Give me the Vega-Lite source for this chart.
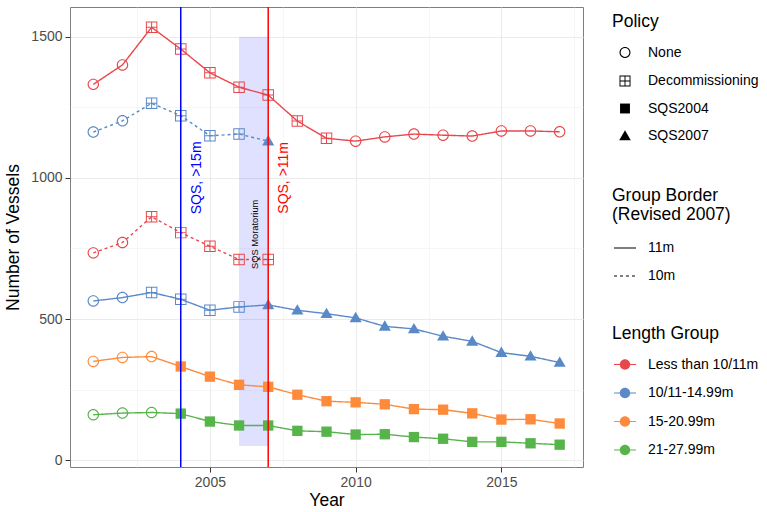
{
  "$schema": "https://vega.github.io/schema/vega-lite/v6.json",
  "width": 513,
  "height": 460,
  "autosize": {"type": "none"},
  "padding": {"left": 70, "top": 7, "right": 184, "bottom": 45},
  "config": {
    "font": "Liberation Sans",
    "view": {"stroke": "#7f7f7f", "strokeWidth": 1},
    "axis": {
      "domain": false,
      "labelFontSize": 14,
      "labelColor": "#4d4d4d",
      "tickColor": "#333333",
      "tickSize": 5,
      "labelPadding": 3,
      "titleFontSize": 17.5,
      "titleFontWeight": "normal",
      "titleColor": "black"
    },
    "legend": {
      "titleFontSize": 17.5,
      "titleFontWeight": "normal",
      "titleColor": "black",
      "labelFontSize": 14,
      "labelColor": "black",
      "padding": 0,
      "titleLineHeight": 18.5
    }
  },
  "datasets": {
    "vessels": [
      {"year": 2001, "value": 1331, "group": "Less than 10/11m", "border": "11m", "policy": "None"},
      {"year": 2002, "value": 1400, "group": "Less than 10/11m", "border": "11m", "policy": "None"},
      {"year": 2003, "value": 1533, "group": "Less than 10/11m", "border": "11m", "policy": "Decommissioning"},
      {"year": 2004, "value": 1456, "group": "Less than 10/11m", "border": "11m", "policy": "Decommissioning"},
      {"year": 2005, "value": 1372, "group": "Less than 10/11m", "border": "11m", "policy": "Decommissioning"},
      {"year": 2006, "value": 1321, "group": "Less than 10/11m", "border": "11m", "policy": "Decommissioning"},
      {"year": 2007, "value": 1293, "group": "Less than 10/11m", "border": "11m", "policy": "Decommissioning"},
      {"year": 2008, "value": 1201, "group": "Less than 10/11m", "border": "11m", "policy": "Decommissioning"},
      {"year": 2009, "value": 1140, "group": "Less than 10/11m", "border": "11m", "policy": "Decommissioning"},
      {"year": 2010, "value": 1130, "group": "Less than 10/11m", "border": "11m", "policy": "None"},
      {"year": 2011, "value": 1145, "group": "Less than 10/11m", "border": "11m", "policy": "None"},
      {"year": 2012, "value": 1155, "group": "Less than 10/11m", "border": "11m", "policy": "None"},
      {"year": 2013, "value": 1151, "group": "Less than 10/11m", "border": "11m", "policy": "None"},
      {"year": 2014, "value": 1148, "group": "Less than 10/11m", "border": "11m", "policy": "None"},
      {"year": 2015, "value": 1166, "group": "Less than 10/11m", "border": "11m", "policy": "None"},
      {"year": 2016, "value": 1166, "group": "Less than 10/11m", "border": "11m", "policy": "None"},
      {"year": 2017, "value": 1163, "group": "Less than 10/11m", "border": "11m", "policy": "None"},
      {"year": 2001, "value": 734, "group": "Less than 10/11m", "border": "10m", "policy": "None"},
      {"year": 2002, "value": 771, "group": "Less than 10/11m", "border": "10m", "policy": "None"},
      {"year": 2003, "value": 862, "group": "Less than 10/11m", "border": "10m", "policy": "Decommissioning"},
      {"year": 2004, "value": 806, "group": "Less than 10/11m", "border": "10m", "policy": "Decommissioning"},
      {"year": 2005, "value": 758, "group": "Less than 10/11m", "border": "10m", "policy": "Decommissioning"},
      {"year": 2006, "value": 711, "group": "Less than 10/11m", "border": "10m", "policy": "Decommissioning"},
      {"year": 2007, "value": 711, "group": "Less than 10/11m", "border": "10m", "policy": "Decommissioning"},
      {"year": 2001, "value": 1162, "group": "10/11-14.99m", "border": "10m", "policy": "None"},
      {"year": 2002, "value": 1202, "group": "10/11-14.99m", "border": "10m", "policy": "None"},
      {"year": 2003, "value": 1264, "group": "10/11-14.99m", "border": "10m", "policy": "Decommissioning"},
      {"year": 2004, "value": 1220, "group": "10/11-14.99m", "border": "10m", "policy": "Decommissioning"},
      {"year": 2005, "value": 1149, "group": "10/11-14.99m", "border": "10m", "policy": "Decommissioning"},
      {"year": 2006, "value": 1155, "group": "10/11-14.99m", "border": "10m", "policy": "Decommissioning"},
      {"year": 2007, "value": 1130, "group": "10/11-14.99m", "border": "10m", "policy": "SQS2007"},
      {"year": 2001, "value": 564, "group": "10/11-14.99m", "border": "11m", "policy": "None"},
      {"year": 2002, "value": 576, "group": "10/11-14.99m", "border": "11m", "policy": "None"},
      {"year": 2003, "value": 594, "group": "10/11-14.99m", "border": "11m", "policy": "Decommissioning"},
      {"year": 2004, "value": 570, "group": "10/11-14.99m", "border": "11m", "policy": "Decommissioning"},
      {"year": 2005, "value": 531, "group": "10/11-14.99m", "border": "11m", "policy": "Decommissioning"},
      {"year": 2006, "value": 543, "group": "10/11-14.99m", "border": "11m", "policy": "Decommissioning"},
      {"year": 2007, "value": 550, "group": "10/11-14.99m", "border": "11m", "policy": "SQS2007"},
      {"year": 2008, "value": 531, "group": "10/11-14.99m", "border": "11m", "policy": "SQS2007"},
      {"year": 2009, "value": 519, "group": "10/11-14.99m", "border": "11m", "policy": "SQS2007"},
      {"year": 2010, "value": 504, "group": "10/11-14.99m", "border": "11m", "policy": "SQS2007"},
      {"year": 2011, "value": 474, "group": "10/11-14.99m", "border": "11m", "policy": "SQS2007"},
      {"year": 2012, "value": 465, "group": "10/11-14.99m", "border": "11m", "policy": "SQS2007"},
      {"year": 2013, "value": 439, "group": "10/11-14.99m", "border": "11m", "policy": "SQS2007"},
      {"year": 2014, "value": 421, "group": "10/11-14.99m", "border": "11m", "policy": "SQS2007"},
      {"year": 2015, "value": 381, "group": "10/11-14.99m", "border": "11m", "policy": "SQS2007"},
      {"year": 2016, "value": 368, "group": "10/11-14.99m", "border": "11m", "policy": "SQS2007"},
      {"year": 2017, "value": 346, "group": "10/11-14.99m", "border": "11m", "policy": "SQS2007"},
      {"year": 2001, "value": 350, "group": "15-20.99m", "border": "11m", "policy": "None"},
      {"year": 2002, "value": 364, "group": "15-20.99m", "border": "11m", "policy": "None"},
      {"year": 2003, "value": 367, "group": "15-20.99m", "border": "11m", "policy": "None"},
      {"year": 2004, "value": 332, "group": "15-20.99m", "border": "11m", "policy": "SQS2004"},
      {"year": 2005, "value": 296, "group": "15-20.99m", "border": "11m", "policy": "SQS2004"},
      {"year": 2006, "value": 267, "group": "15-20.99m", "border": "11m", "policy": "SQS2004"},
      {"year": 2007, "value": 260, "group": "15-20.99m", "border": "11m", "policy": "SQS2004"},
      {"year": 2008, "value": 232, "group": "15-20.99m", "border": "11m", "policy": "SQS2004"},
      {"year": 2009, "value": 209, "group": "15-20.99m", "border": "11m", "policy": "SQS2004"},
      {"year": 2010, "value": 205, "group": "15-20.99m", "border": "11m", "policy": "SQS2004"},
      {"year": 2011, "value": 198, "group": "15-20.99m", "border": "11m", "policy": "SQS2004"},
      {"year": 2012, "value": 181, "group": "15-20.99m", "border": "11m", "policy": "SQS2004"},
      {"year": 2013, "value": 179, "group": "15-20.99m", "border": "11m", "policy": "SQS2004"},
      {"year": 2014, "value": 166, "group": "15-20.99m", "border": "11m", "policy": "SQS2004"},
      {"year": 2015, "value": 144, "group": "15-20.99m", "border": "11m", "policy": "SQS2004"},
      {"year": 2016, "value": 145, "group": "15-20.99m", "border": "11m", "policy": "SQS2004"},
      {"year": 2017, "value": 130, "group": "15-20.99m", "border": "11m", "policy": "SQS2004"},
      {"year": 2001, "value": 161, "group": "21-27.99m", "border": "11m", "policy": "None"},
      {"year": 2002, "value": 167, "group": "21-27.99m", "border": "11m", "policy": "None"},
      {"year": 2003, "value": 169, "group": "21-27.99m", "border": "11m", "policy": "None"},
      {"year": 2004, "value": 165, "group": "21-27.99m", "border": "11m", "policy": "SQS2004"},
      {"year": 2005, "value": 137, "group": "21-27.99m", "border": "11m", "policy": "SQS2004"},
      {"year": 2006, "value": 123, "group": "21-27.99m", "border": "11m", "policy": "SQS2004"},
      {"year": 2007, "value": 123, "group": "21-27.99m", "border": "11m", "policy": "SQS2004"},
      {"year": 2008, "value": 104, "group": "21-27.99m", "border": "11m", "policy": "SQS2004"},
      {"year": 2009, "value": 101, "group": "21-27.99m", "border": "11m", "policy": "SQS2004"},
      {"year": 2010, "value": 91, "group": "21-27.99m", "border": "11m", "policy": "SQS2004"},
      {"year": 2011, "value": 92, "group": "21-27.99m", "border": "11m", "policy": "SQS2004"},
      {"year": 2012, "value": 82, "group": "21-27.99m", "border": "11m", "policy": "SQS2004"},
      {"year": 2013, "value": 76, "group": "21-27.99m", "border": "11m", "policy": "SQS2004"},
      {"year": 2014, "value": 65, "group": "21-27.99m", "border": "11m", "policy": "SQS2004"},
      {"year": 2015, "value": 65, "group": "21-27.99m", "border": "11m", "policy": "SQS2004"},
      {"year": 2016, "value": 60, "group": "21-27.99m", "border": "11m", "policy": "SQS2004"},
      {"year": 2017, "value": 55, "group": "21-27.99m", "border": "11m", "policy": "SQS2004"}
    ]
  },
  "layer": [
    {
      "data": {"values": [{"year": 2006, "year_end": 2007, "value": 50, "value_top": 1500}]},
      "mark": {"type": "rect", "color": "#0000ff", "opacity": 0.12},
      "encoding": {
        "x": {
          "field": "year", "type": "quantitative", "title": "Year",
          "scale": {"domain": [2000.2, 2017.8], "nice": false, "zero": false},
          "axis": {
            "values": [2002.5, 2005, 2007.5, 2010, 2012.5, 2015, 2017.5],
            "format": "d",
            "labelExpr": "datum.value % 5 === 0 ? datum.label : ''",
            "tickOpacity": {"condition": {"test": "datum.value % 5 === 0", "value": 1}, "value": 0},
            "gridColor": {"condition": {"test": "datum.value % 5 === 0", "value": "#ebebeb"}, "value": "#f2f2f2"},
            "gridWidth": {"condition": {"test": "datum.value % 5 === 0", "value": 1.1}, "value": 0.7},
            "titlePadding": 2
          }
        },
        "x2": {"field": "year_end"},
        "y": {
          "field": "value", "type": "quantitative", "title": "Number of Vessels",
          "scale": {"domain": [-24, 1605], "nice": false, "zero": false},
          "axis": {
            "values": [0, 250, 500, 750, 1000, 1250, 1500],
            "labelExpr": "datum.value % 500 === 0 ? datum.label : ''",
            "format": "d",
            "tickOpacity": {"condition": {"test": "datum.value % 500 === 0", "value": 1}, "value": 0},
            "gridColor": {"condition": {"test": "datum.value % 500 === 0", "value": "#ebebeb"}, "value": "#f2f2f2"},
            "gridWidth": {"condition": {"test": "datum.value % 500 === 0", "value": 1.1}, "value": 0.7},
            "titlePadding": 8
          }
        },
        "y2": {"field": "value_top"}
      }
    },
    {
      "data": {"name": "vessels"},
      "mark": {"type": "line", "strokeWidth": 1.4},
      "encoding": {
        "x": {"field": "year", "type": "quantitative", "title": "Year"},
        "y": {"field": "value", "type": "quantitative", "title": "Number of Vessels"},
        "color": {
          "field": "group", "type": "nominal",
          "scale": {"domain": ["Less than 10/11m", "10/11-14.99m", "15-20.99m", "21-27.99m"], "range": ["#e8474c", "#5a89c8", "#fe8b3c", "#56b44b"]},
          "legend": {
            "title": "Length Group", "orient": "none", "legendX": 542, "legendY": 318,
            "symbolType": "M-1.9,-0.09H1.9V0.09H-1.9Z M0.9,0A0.9,0.9 0 1,1 -0.9,0A0.9,0.9 0 1,1 0.9,0Z",
            "symbolSize": 134, "symbolOffset": 6, "labelOffset": 16, "rowPadding": 14.5, "titlePadding": 15,
            "encode": {"symbols": {"update": {"fill": {"scale": "color", "field": "value"}, "stroke": {"value": "transparent"}, "strokeWidth": {"value": 0}, "opacity": {"value": 1}}}}
          }
        },
        "strokeDash": {
          "field": "border", "type": "nominal",
          "scale": {"domain": ["11m", "10m"], "range": [[1, 0], [3, 3]]},
          "legend": {
            "title": ["Group Border", "\u00a0(Revised 2007)"], "orient": "none", "legendX": 542, "legendY": 180,
            "symbolType": "stroke", "symbolSize": 484, "symbolOffset": 1, "labelOffset": 11, "rowPadding": 9, "titlePadding": 13,
            "encode": {"symbols": {"update": {"stroke": {"value": "black"}, "strokeWidth": {"value": 1.2}, "opacity": {"value": 1}}}}
          }
        }
      }
    },
    {
      "data": {"name": "vessels"},
      "mark": {"type": "point", "filled": true, "size": 132, "strokeWidth": 0, "opacity": 1},
      "encoding": {
        "x": {"field": "year", "type": "quantitative", "title": "Year"},
        "y": {"field": "value", "type": "quantitative", "title": "Number of Vessels"},
        "color": {
          "field": "group", "type": "nominal",
          "legend": {
            "title": "Length Group", "orient": "none", "legendX": 542, "legendY": 318,
            "symbolType": "M-1.9,-0.09H1.9V0.09H-1.9Z M0.9,0A0.9,0.9 0 1,1 -0.9,0A0.9,0.9 0 1,1 0.9,0Z",
            "symbolSize": 134, "symbolOffset": 6, "labelOffset": 16, "rowPadding": 14.5, "titlePadding": 15,
            "encode": {"symbols": {"update": {"fill": {"scale": "color", "field": "value"}, "stroke": {"value": "transparent"}, "strokeWidth": {"value": 0}, "opacity": {"value": 1}}}}
          }
        },
        "shape": {
          "field": "policy", "type": "nominal",
          "scale": {
            "domain": ["None", "Decommissioning", "SQS2004", "SQS2007"],
            "range": [
              "M1,0A1,1 0 1,1 -1,0A1,1 0 1,1 1,0Z M0.8,0A0.8,0.8 0 1,0 -0.8,0A0.8,0.8 0 1,0 0.8,0Z",
              "M-1,-1H1V1H-1Z M-0.83,-0.83V-0.085H-0.085V-0.83Z M0.085,-0.83V-0.085H0.83V-0.83Z M-0.83,0.085V0.83H-0.085V0.085Z M0.085,0.085V0.83H0.83V0.085Z",
              "M-0.9,-0.9H0.9V0.9H-0.9Z",
              "M0,-1.05L1.05,0.75H-1.05Z"
            ]
          },
          "legend": {
            "title": "Policy", "orient": "none", "legendX": 542, "legendY": 6,
            "symbolSize": 121, "symbolOffset": 6, "labelOffset": 16, "rowPadding": 10.5, "titlePadding": 15,
            "encode": {"symbols": {"update": {"fill": {"value": "black"}, "stroke": {"value": "transparent"}, "strokeWidth": {"value": 0}, "opacity": {"value": 1}, "size": {"value": 121}}}}
          }
        }
      }
    },
    {
      "data": {"values": [{"year": 2004}]},
      "mark": {"type": "rule", "color": "#0000ff", "strokeWidth": 1.5},
      "encoding": {"x": {"field": "year", "type": "quantitative", "title": "Year"}}
    },
    {
      "data": {"values": [{"year": 2007}]},
      "mark": {"type": "rule", "color": "#ff0000", "strokeWidth": 1.5},
      "encoding": {"x": {"field": "year", "type": "quantitative", "title": "Year"}}
    },
    {
      "data": {"values": [{"year": 2004.55, "value": 1000, "label": "SQS, >15m"}]},
      "mark": {"type": "text", "color": "#0000ff", "fontSize": 14, "angle": 270, "align": "center", "baseline": "middle"},
      "encoding": {
        "x": {"field": "year", "type": "quantitative", "title": "Year"},
        "y": {"field": "value", "type": "quantitative", "title": "Number of Vessels"},
        "text": {"field": "label"}
      }
    },
    {
      "data": {"values": [{"year": 2007.55, "value": 1000, "label": "SQS, >11m"}]},
      "mark": {"type": "text", "color": "#ff0000", "fontSize": 14, "angle": 270, "align": "center", "baseline": "middle"},
      "encoding": {
        "x": {"field": "year", "type": "quantitative", "title": "Year"},
        "y": {"field": "value", "type": "quantitative", "title": "Number of Vessels"},
        "text": {"field": "label"}
      }
    },
    {
      "data": {"values": [{"year": 2006.55, "value": 800, "label": "SQS Moratorium"}]},
      "mark": {"type": "text", "color": "black", "fontSize": 9.3, "angle": 270, "align": "center", "baseline": "middle"},
      "encoding": {
        "x": {"field": "year", "type": "quantitative", "title": "Year"},
        "y": {"field": "value", "type": "quantitative", "title": "Number of Vessels"},
        "text": {"field": "label"}
      }
    }
  ]
}
